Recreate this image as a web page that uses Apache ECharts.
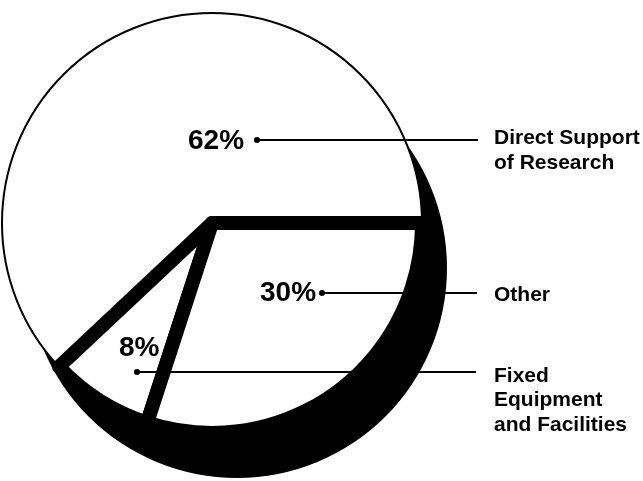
<!DOCTYPE html>
<html>
<head>
<meta charset="utf-8">
<script src="https://cdn.jsdelivr.net/npm/echarts@6/dist/echarts.min.js"></script>
<style>
html,body{margin:0;padding:0;background:#fff;}
#c{width:643px;height:481px;}
</style>
</head>
<body>
<div id="c"></div>
<script>
// Data
const categories = ['Direct Support\nof Research', 'Fixed\nEquipment\nand Facilities', 'Other'];
const values = [62, 8, 30];
const percentLabels = values.map(v => v + '%');

// Layout (annotation placement only)
const pctPos = [[188, 141], [119, 348], [260, 293]];
const leaderPos = [[257, 140, 478], [137, 372, 476], [322, 293, 477]];
const namePos = [[494, 150.5, 25], [494, 400.5, 24.5], [494, 295, 25]];
const borderWidths = [2, 14, 14];

const chart = echarts.init(document.getElementById('c'), null, {renderer: 'canvas'});

const graphics = [];
values.forEach((v, i) => {
  graphics.push({
    type: 'text', z: 100,
    style: {
      text: percentLabels[i], x: pctPos[i][0], y: pctPos[i][1],
      fontSize: 28, fontWeight: 'bold', fontFamily: '"Liberation Sans", Arial, sans-serif',
      fill: '#000', align: 'left', verticalAlign: 'middle'
    }
  });
  graphics.push({
    type: 'line', z: 100,
    shape: {x1: leaderPos[i][0], y1: leaderPos[i][1], x2: leaderPos[i][2], y2: leaderPos[i][1]},
    style: {stroke: '#000', lineWidth: 2}
  });
  graphics.push({
    type: 'circle', z: 100,
    shape: {cx: leaderPos[i][0], cy: leaderPos[i][1], r: 3},
    style: {fill: '#000'}
  });
  graphics.push({
    type: 'text', z: 100,
    style: {
      text: categories[i], x: namePos[i][0], y: namePos[i][1],
      fontSize: 21, fontWeight: 'bold', fontFamily: '"Liberation Sans", Arial, sans-serif', lineHeight: namePos[i][2],
      fill: '#000', align: 'left', verticalAlign: 'middle'
    }
  });
});

chart.setOption({
  animation: false,
  backgroundColor: '#fff',
  graphic: graphics,
  series: [
    {
      type: 'pie', silent: true, z: 1,
      center: [237, 268], radius: 210,
      label: {show: false}, labelLine: {show: false},
      itemStyle: {color: '#000', borderWidth: 0},
      data: [{value: values.reduce((a, b) => a + b, 0), name: 'depth'}]
    },
    {
      type: 'pie', silent: true, z: 2,
      center: [212, 223], radius: 210,
      startAngle: 0, clockwise: false,
      avoidLabelOverlap: false,
      label: {show: false}, labelLine: {show: false},
      emphasis: {disabled: true},
      data: values.map((v, i) => ({
        value: v, name: categories[i],
        itemStyle: {color: '#fff', borderColor: '#000', borderWidth: borderWidths[i], borderJoin: 'round'}
      }))
    }
  ]
});
</script>
</body>
</html>
